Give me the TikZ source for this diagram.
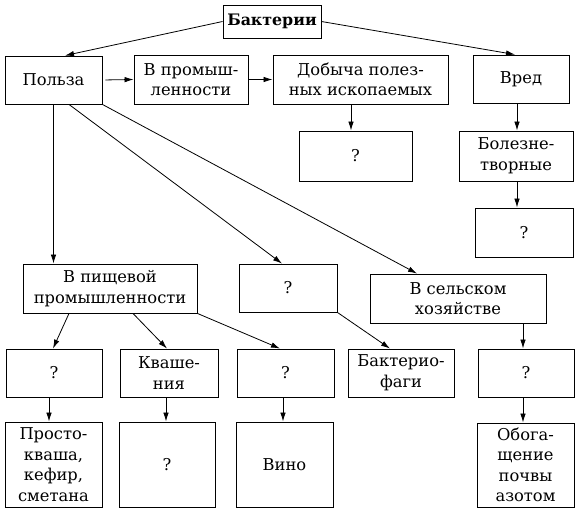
\documentclass[tikz,border=0pt]{standalone}
\usepackage{fontspec}
\setmainfont{DejaVu Serif}
\usetikzlibrary{arrows.meta}
\begin{document}
\begin{tikzpicture}[x=1pt,y=-1pt,
  box/.style={draw, line width=0.9pt, inner sep=0pt, align=center,
    font=\fontsize{16.3}{20.5}\selectfont},
  arr/.style={draw, line width=0.8pt, -{Latex[length=9pt,width=5.5pt]}}]
\useasboundingbox (0,0) rectangle (581,513);
\node[box, minimum width=98, minimum height=33, font=\fontsize{15.8}{20.5}\selectfont\bfseries] (bak) at (272,21.5) {Бактерии};
\node[box, minimum width=97, minimum height=48] (pol) at (53.5,80) {Польза};
\node[box, minimum width=114, minimum height=49] (prom) at (191,79.5) {В промыш-\\ленности};
\node[box, minimum width=175, minimum height=49] (dob) at (360.5,79.5) {Добыча полез-\\ных ископаемых};
\node[box, minimum width=96, minimum height=48] (vred) at (521,79) {Вред};
\node[box, minimum width=113, minimum height=50] (q1) at (355.5,156) {?};
\node[box, minimum width=114, minimum height=50] (bol) at (516,156) {Болезне-\\творные};
\node[box, minimum width=98, minimum height=49] (q2) at (524,232.5) {?};
\node[box, minimum width=174, minimum height=49] (pish) at (110,288.5) {В пищевой\\промышленности};
\node[box, minimum width=98, minimum height=48] (qm) at (288,288) {?};
\node[box, minimum width=176, minimum height=49] (sel) at (458,298.5) {В сельском\\хозяйстве};
\node[box, minimum width=96, minimum height=48] (qa) at (54,373) {?};
\node[box, minimum width=98, minimum height=48] (kv) at (169,373) {Кваше-\\ния};
\node[box, minimum width=97, minimum height=48] (qb) at (285.5,373) {?};
\node[box, minimum width=106, minimum height=48] (fag) at (401,373) {Бактерио-\\фаги};
\node[box, minimum width=96, minimum height=48] (qc) at (526,373) {?};
\node[box, minimum width=97, minimum height=85] (pros) at (53.5,464.5) {Просто-\\кваша,\\кефир,\\сметана};
\node[box, minimum width=96, minimum height=85] (qd) at (167,464.5) {?};
\node[box, minimum width=97, minimum height=85] (vino) at (284.5,464.5) {Вино};
\node[box, minimum width=97, minimum height=84] (obo) at (525.5,465) {Обога-\\щение\\почвы\\азотом};
% connectors
\draw[arr] (bak.west) -- ([xshift=11.5pt]pol.north);
\draw[arr] (bak.east) -- ([xshift=-6pt]vred.north);
\draw[arr, shorten <=3pt] (pol.east) -- (prom.west);
\draw[arr] (prom.east) -- (dob.west);
\draw[arr] ([xshift=-4.5pt]q1.north |- dob.south) -- ([xshift=-4.5pt]q1.north);
\draw[arr] ([xshift=1pt]bol.north |- vred.south) -- ([xshift=1pt]bol.north);
\draw[arr] ([xshift=1pt]bol.south) -- ([xshift=1pt]bol.south |- q2.north);
\draw[arr] (pol.south) -- (pol.south |- pish.north);
\draw[arr] ([xshift=15.5pt]pol.south) -- ([xshift=-6pt]qm.north);
\draw[arr] (pol.south east) -- ([xshift=-41pt]sel.north);
\draw[arr] (qm.south east) -- ([xshift=-11pt]fag.north);
\draw[arr] ([xshift=-3pt]qc.north |- sel.south) -- ([xshift=-3pt]qc.north);
\draw[arr] ([xshift=-3pt]qc.south) -- ([xshift=-3pt]qc.south |- obo.north);
\draw[arr] ([xshift=-41pt]pish.south) -- ([xshift=-1pt]qa.north);
\draw[arr] ([xshift=23pt]pish.south) -- ([xshift=-2pt]kv.north);
\draw[arr] (pish.south east) -- ([xshift=-5.5pt]qb.north);
\draw[arr] ([xshift=-5pt]qa.south) -- ([xshift=-5pt]qa.south |- pros.north);
\draw[arr] ([xshift=-3pt]kv.south) -- ([xshift=-3pt]kv.south |- qd.north);
\draw[arr] ([xshift=-2.5pt]qb.south) -- ([xshift=-2.5pt]qb.south |- vino.north);
\end{tikzpicture}
\end{document}
